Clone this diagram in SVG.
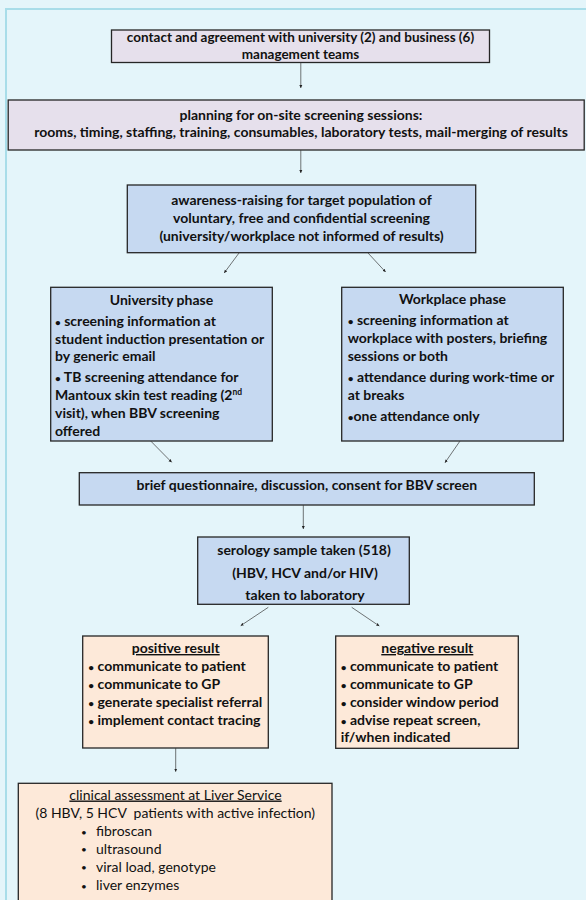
<svg xmlns="http://www.w3.org/2000/svg" width="586" height="900" viewBox="0 0 586 900">
<defs>
<style>
.bg{fill:#e4f5fa}
.frame{fill:none;stroke:#a8dde9;stroke-width:2}
.box{stroke:#262626;stroke-width:1.3}
.lav{fill:#e6e0ec}
.blue{fill:#c6d9f1}
.peach{fill:#fde9d9}
text{font-family:Lato,"Liberation Sans",sans-serif;font-size:14px;fill:#111}
.b{font-weight:bold}
.r{font-weight:normal}
.c{text-anchor:middle}
.u{text-decoration:underline}
.d{font-size:10px}
.s{font-size:13.5px}
.conn line{stroke:#3a3a3a;stroke-width:0.7;marker-end:url(#ah)}
</style>
<marker id="ah" markerUnits="userSpaceOnUse" markerWidth="4" markerHeight="4" refX="3" refY="2" orient="auto">
<path d="M0,0.5 L3,2 L0,3.5 Z" fill="#222"/>
</marker>
</defs>
<rect class="bg" x="0" y="0" width="586" height="900"/>
<rect class="frame" x="6" y="9" width="700" height="1000"/>

<g id="n1">
<rect class="box lav" x="111.5" y="30" width="378" height="32.5"/>
<text class="b c s" x="300.5" y="42.2">contact and agreement with university (2) and business (6)</text>
<text class="b c s" x="300.5" y="58.6">management teams</text>
</g>

<g id="n2">
<rect class="box lav" x="8.2" y="100" width="576" height="50"/>
<text class="b c" x="301" y="119.5">planning for on-site screening sessions:</text>
<text class="b c" x="301" y="137">rooms, timing, staffing, training, consumables, laboratory tests, mail-merging of results</text>
</g>

<g id="n3">
<rect class="box blue" x="127.3" y="185" width="348.4" height="67.7"/>
<text class="b c" x="301.5" y="204.5">awareness-raising for target population of</text>
<text class="b c" x="301.5" y="222.5">voluntary, free and confidential screening</text>
<text class="b c" x="301.5" y="240.5">(university/workplace not informed of results)</text>
</g>

<g id="n4">
<rect class="box blue" x="50.7" y="287.3" width="221.6" height="153.7"/>
<text class="b c" x="161.5" y="304.5">University phase</text>
<text class="b" x="55" y="325.5"><tspan class="d">•</tspan> screening information at</text>
<text class="b" x="55" y="343.5">student induction presentation or</text>
<text class="b" x="55" y="361">by generic email</text>
<text class="b" x="55" y="382"><tspan class="d">•</tspan> TB screening attendance for</text>
<text class="b" x="55" y="400">Mantoux skin test reading (2<tspan font-size="8.5" dy="-5.5">nd</tspan></text>
<text class="b" x="55" y="417.7">visit), when BBV screening</text>
<text class="b" x="55" y="435.5">offered</text>
</g>

<g id="n5">
<rect class="box blue" x="341.7" y="287.3" width="221.6" height="153.7"/>
<text class="b c" x="452.5" y="304">Workplace phase</text>
<text class="b" x="347.7" y="325"><tspan class="d">•</tspan> screening information at</text>
<text class="b" x="347.7" y="342.7">workplace with posters, briefing</text>
<text class="b" x="347.7" y="360.5">sessions or both</text>
<text class="b" x="347.7" y="381.7"><tspan class="d">•</tspan> attendance during work-time or</text>
<text class="b" x="347.7" y="399.5">at breaks</text>
<text class="b" x="347.7" y="420.5"><tspan class="d">•</tspan>one attendance only</text>
</g>

<g id="n6">
<rect class="box blue" x="79.3" y="472.7" width="455" height="32.3"/>
<text class="b c" x="306.8" y="489.5">brief questionnaire, discussion, consent for BBV screen</text>
</g>

<g id="n7">
<rect class="box blue" x="197.7" y="537" width="211.6" height="67.3"/>
<text class="b c" x="304" y="555">serology sample taken (518)</text>
<text class="b c" x="305" y="578">(HBV, HCV and/or HIV)</text>
<text class="b c" x="305" y="600">taken to laboratory</text>
</g>

<g id="n8">
<rect class="box peach" x="82.7" y="636" width="185.6" height="112"/>
<text class="b c u" x="175.7" y="653">positive result</text>
<text class="b" x="88.3" y="671"><tspan class="d">•</tspan> communicate to patient</text>
<text class="b" x="88.3" y="688.7"><tspan class="d">•</tspan> communicate to GP</text>
<text class="b" x="88.3" y="707"><tspan class="d">•</tspan> generate specialist referral</text>
<text class="b" x="88.3" y="725"><tspan class="d">•</tspan> implement contact tracing</text>
</g>

<g id="n9">
<rect class="box peach" x="335.7" y="636" width="182.6" height="112.3"/>
<text class="b c u" x="427.3" y="653">negative result</text>
<text class="b" x="340.7" y="671"><tspan class="d">•</tspan> communicate to patient</text>
<text class="b" x="340.7" y="688.7"><tspan class="d">•</tspan> communicate to GP</text>
<text class="b" x="340.7" y="706.7"><tspan class="d">•</tspan> consider window period</text>
<text class="b" x="340.7" y="725"><tspan class="d">•</tspan> advise repeat screen,</text>
<text class="b" x="340.7" y="742">if/when indicated</text>
</g>

<g id="n10">
<rect class="box peach" x="18.3" y="783.3" width="313.7" height="130"/>
<text class="r c u" x="175.5" y="799.5">clinical assessment at Liver Service</text>
<text class="r c" x="175.3" y="817.7" xml:space="preserve">(8 HBV, 5 HCV  patients with active infection)</text>
<text class="r d" x="81" y="835.5">•</text>
<text class="r" x="96" y="836">fibroscan</text>
<text class="r d" x="81" y="853.2">•</text>
<text class="r" x="96" y="853.7">ultrasound</text>
<text class="r d" x="81" y="871.2">•</text>
<text class="r" x="96" y="871.7">viral load, genotype</text>
<text class="r d" x="81" y="889.5">•</text>
<text class="r" x="96" y="890">liver enzymes</text>
</g>

<g id="connectors" class="conn">
<line x1="300.8" y1="62.5" x2="300.8" y2="88"/>
<line x1="300.8" y1="150" x2="300.8" y2="173"/>
<line x1="239" y1="253" x2="224.2" y2="273"/>
<line x1="368" y1="253" x2="385.6" y2="272"/>
<line x1="150.7" y1="441" x2="171.7" y2="462.3"/>
<line x1="460" y1="441" x2="445" y2="462.7"/>
<line x1="303.3" y1="505" x2="303.3" y2="529"/>
<line x1="268.3" y1="607.3" x2="240.7" y2="625.7"/>
<line x1="351.7" y1="607.3" x2="379.3" y2="626"/>
<line x1="175.7" y1="748" x2="175.7" y2="771.7"/>
</g>
</svg>
